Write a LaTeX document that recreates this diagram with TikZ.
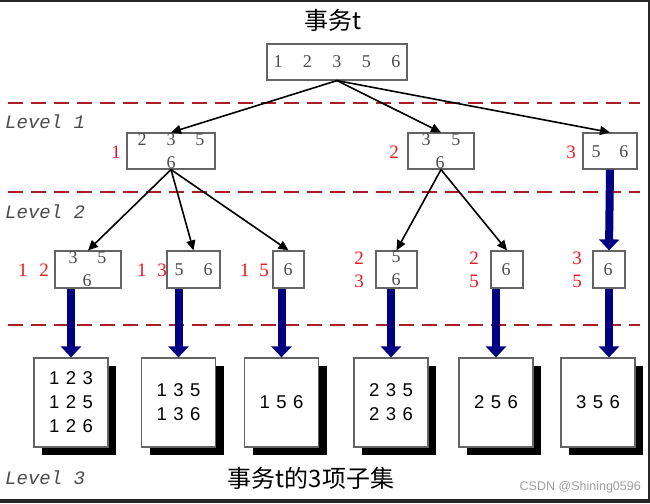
\documentclass[tikz,border=0pt]{standalone}
\usepackage{fontspec}
\setmainfont{Liberation Serif}
\newfontfamily\cjkf{Noto Sans CJK SC}
\newfontfamily\lvlf{Liberation Mono}
\newfontfamily\arialf{Liberation Sans}
\usetikzlibrary{arrows.meta,shadows}
\definecolor{dashred}{RGB}{170,30,40}
\definecolor{boxgray}{RGB}{100,100,100}
\definecolor{digitgray}{RGB}{75,75,75}
\definecolor{navyblue}{RGB}{0,0,128}
\definecolor{lblred}{RGB}{235,25,35}
\newcommand\gp[1]{\hspace{#1pt}}
\newcommand\trip[3]{#1\hspace{6.5pt}#2\hspace{6.5pt}#3}
\begin{document}
\begin{tikzpicture}[x=1pt,y=-1pt,
  tbox/.style={draw=boxgray,line width=1.2pt,inner sep=0pt,fill=white},
  dg/.style={font=\fontsize{18}{18}\selectfont,text=digitgray,inner sep=0pt},
  rl/.style={font=\fontsize{19}{23}\selectfont,text=lblred,inner sep=0pt,align=center},
  lvl/.style={font=\fontsize{19}{19}\selectfont\lvlf\itshape,text=black!70,inner sep=0pt,anchor=west},
  cjkt/.style={font=\fontsize{24}{24}\selectfont\cjkf,inner sep=0pt},
  leaf/.style={draw=boxgray,line width=1.2pt,fill=white,inner sep=0pt,minimum width=74pt,minimum height=89pt,
    font=\fontsize{18.5}{24}\selectfont\arialf,align=center,
    drop shadow={shadow xshift=8pt,shadow yshift=-8pt,fill=black,opacity=1}},
  dashline/.style={draw=dashred,line width=2pt,dash pattern=on 15pt off 8pt},
  thinarrow/.style={draw=black,line width=1.6pt,-{Triangle[length=10pt,width=9pt]}},
  fat/.style={draw=navyblue,line width=8pt,-{Triangle[length=11pt,width=20pt]}}]
\useasboundingbox (0,0) rectangle (650,503);
\fill[white] (0,0) rectangle (650,503);
% frame
\fill[black!85] (0,0) rectangle (650,2);
\fill[black!85] (647.5,0) rectangle (650,503);
\fill[black!85] (0,499) rectangle (650,503);
% dashed level separators
\draw[dashline] (8,103) -- (640,103);
\draw[dashline] (8,192) -- (640,192);
\draw[dashline] (8,325) -- (640,325);
% title
\node[cjkt] (title) at (333,20) {事务t};
% root
\node[tbox,minimum width=140pt,minimum height=36pt] (root) at (337,62) {};
\node[dg] (rootd) at (337,62) {1\gp{20.5}2\gp{20.5}3\gp{20.5}5\gp{20.5}6};
% level labels
\node[lvl] (lv1) at (5,122) {Level 1};
\node[lvl] (lv2) at (5,212) {Level 2};
\node[lvl] (lv3) at (5,478) {Level 3};
% level 1 boxes
\node[tbox,minimum width=88pt,minimum height=36pt] (l1a) at (171,151) {};
\node[tbox,minimum width=66pt,minimum height=36pt] (l1b) at (441,151) {};
\node[tbox,minimum width=54pt,minimum height=36pt] (l1c) at (610,151) {};
\node[dg] (l1at) at (171,140) {2\gp{20}3\gp{20}5};
\node[dg] (l1ab) at (171,163) {6};
\node[dg] (l1bt) at (441,140) {3\gp{21}5};
\node[dg] (l1bb) at (440,163) {6};
\node[dg] (l1ct) at (610,152) {5\gp{19}6};
\node[rl] (r1) at (116,152) {1};
\node[rl] (r2) at (394,152) {2};
\node[rl] (r3) at (571,152) {3};
% level 2 boxes
\node[tbox,minimum width=66pt,minimum height=37pt] (l2a) at (88,269.5) {};
\node[tbox,minimum width=53pt,minimum height=37pt] (l2b) at (193.5,269.5) {};
\node[tbox,minimum width=31pt,minimum height=37pt] (l2c) at (288.5,269.5) {};
\node[tbox,minimum width=41pt,minimum height=37pt] (l2d) at (396.5,269.5) {};
\node[tbox,minimum width=32pt,minimum height=37pt] (l2e) at (507,269.5) {};
\node[tbox,minimum width=32pt,minimum height=37pt] (l2f) at (609,269.5) {};
\node[dg] (l2at) at (87.5,258) {3\gp{20}5};
\node[dg] (l2ab) at (87,281) {6};
\node[dg] (l2bt) at (193.5,270) {5\gp{20}6};
\node[dg] (l2ct) at (288,270) {6};
\node[dg] (l2dt) at (396,257) {5};
\node[dg] (l2db) at (396,280) {6};
\node[dg] (l2et) at (506,270) {6};
\node[dg] (l2ft) at (608,270) {6};
\node[rl] (r12) at (33.5,270) {1\gp{12}2};
\node[rl] (r13) at (152,270) {1\gp{11}3};
\node[rl] (r15) at (254.5,270) {1\gp{10}5};
\node[rl] (r23) at (359,269.5) {2\\3};
\node[rl] (r25) at (474,269.5) {2\\5};
\node[rl] (r35) at (577,269.5) {3\\5};
% level 3 leaves
\node[leaf] (l3a) at (71,402.5) {\trip123\\\trip125\\\trip126};
\node[leaf] (l3b) at (178.5,402.5) {\trip135\\\trip136};
\node[leaf] (l3c) at (281.5,402.5) {\trip156};
\node[leaf] (l3d) at (391,402.5) {\trip235\\\trip236};
\node[leaf] (l3e) at (496,402.5) {\trip256};
\node[leaf] (l3f) at (598,402.5) {\trip356};
% thin arrows
\draw[thinarrow] (root.south) -- (l1a.north);
\draw[thinarrow] (root.south) -- (l1b.north);
\draw[thinarrow] (root.south) -- (l1c.north);
\draw[thinarrow] (l1a.south) -- (l2a.north);
\draw[thinarrow] (l1a.south) -- (l2b.north);
\draw[thinarrow] (l1a.south) -- (l2c.north);
\draw[thinarrow] (l1b.south) -- (l2d.north);
\draw[thinarrow] (l1b.south) -- (l2e.north);
% fat arrows
\draw[fat] (l1c.south) -- (l2f.north);
\draw[fat] (l2a.south -| l3a.north) -- (l3a.north);
\draw[fat] (l2b.south -| l3b.north) -- (l3b.north);
\draw[fat] (l2c.south -| l3c.north) -- (l3c.north);
\draw[fat] (l2d.south -| l3d.north) -- (l3d.north);
\draw[fat] (l2e.south -| l3e.north) -- (l3e.north);
\draw[fat] (l2f.south) -- (l2f.south |- l3f.north);
% caption
\node[cjkt] (cap) at (311,478) {事务t的3项子集};
\node[font=\fontsize{12.5}{12.5}\selectfont\arialf,text=black!38,inner sep=0pt,anchor=east] (wm) at (641,487) {CSDN @Shining0596};
\end{tikzpicture}
\end{document}
